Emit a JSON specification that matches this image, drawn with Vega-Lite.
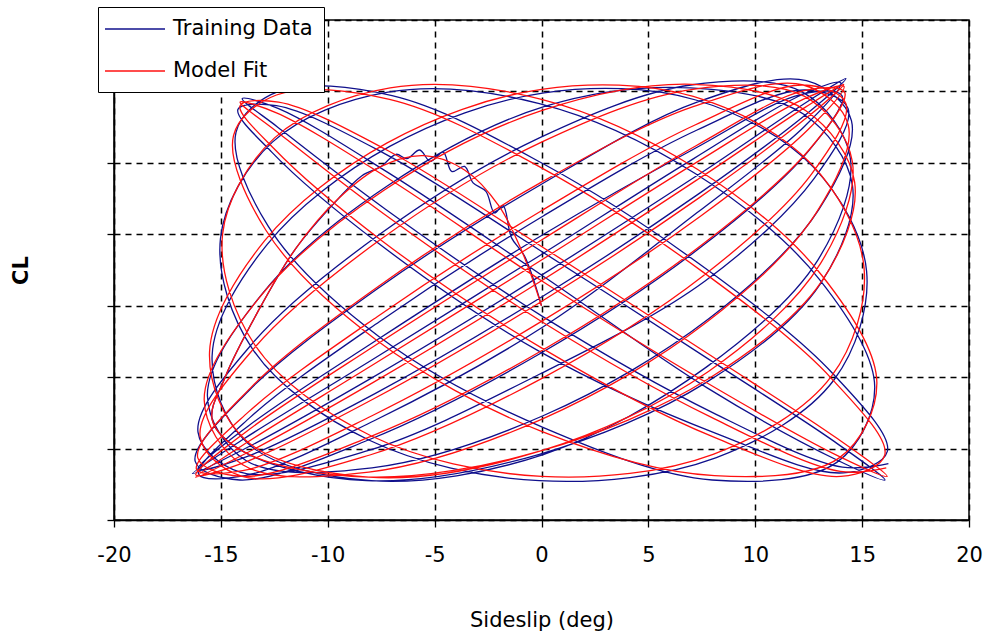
{
"$schema": "https://vega.github.io/schema/vega-lite/v6.json",
"width": 855, "height": 500,
"autosize": {"type": "none"},
"padding": {"left": 114, "top": 20, "right": 30, "bottom": 114},
"background": "white",
"config": {"view": {"stroke": "black", "strokeWidth": 1.5}, "font": "DejaVu Sans"},
"datasets": {
"fit": [
{"i":0,"x":0,"y":3.0},{"i":1,"x":-0.9,"y":3.75},{"i":2,"x":-2.0,"y":4.4},{"i":3,"x":-3.6,"y":4.9},{"i":4,"x":-5.5,"y":5.1},{"i":5,"x":-7.5,"y":4.95},{"i":6,"x":-9.5,"y":4.5},{"i":7,"x":-11.5,"y":3.8},{"i":8,"x":-13.3,"y":2.9},{"i":9,"x":-14.8,"y":2.0},{"i":10,"x":-15.4,"y":1.4},{"i":11,"x":-13.9,"y":0.95},{"i":12,"x":-8.09,"y":0.6},{"i":13,"x":0,"y":0.97},{"i":14,"x":7.83,"y":1.98},{"i":15,"x":13.13,"y":3.35},{"i":16,"x":14.65,"y":4.73},{"i":17,"x":12.37,"y":5.73},{"i":18,"x":7.07,"y":6.1},
{"i":19,"x":0,"y":5.73},{"i":20,"x":-7.35,"y":4.62},{"i":21,"x":-13.21,"y":3.11},{"i":22,"x":-15.78,"y":1.68},{"i":23,"x":-13.96,"y":0.77},{"i":24,"x":-8.08,"y":0.67},{"i":25,"x":0,"y":1.41},{"i":26,"x":7.69,"y":2.76},{"i":27,"x":12.83,"y":4.29},{"i":28,"x":14.35,"y":5.53},{"i":29,"x":12.25,"y":6.09},{"i":30,"x":7.13,"y":5.79},
{"i":31,"x":0,"y":4.73},{"i":32,"x":-7.59,"y":3.28},{"i":33,"x":-13.61,"y":1.85},{"i":34,"x":-16.08,"y":0.87},{"i":35,"x":-14.0,"y":0.61},{"i":36,"x":-7.98,"y":1.17},{"i":37,"x":0,"y":2.37},{"i":38,"x":7.49,"y":3.85},{"i":39,"x":12.54,"y":5.19},{"i":40,"x":14.18,"y":5.99},{"i":41,"x":12.28,"y":6.01},{"i":42,"x":7.23,"y":5.24},
{"i":43,"x":0,"y":3.92},{"i":44,"x":-7.75,"y":2.45},{"i":45,"x":-13.8,"y":1.24},{"i":46,"x":-16.17,"y":0.63},{"i":47,"x":-13.95,"y":0.8},{"i":48,"x":-7.89,"y":1.69},{"i":49,"x":0,"y":3.06},{"i":50,"x":7.37,"y":4.51},{"i":51,"x":12.4,"y":5.63},{"i":52,"x":14.14,"y":6.1},{"i":53,"x":12.35,"y":5.78},{"i":54,"x":7.32,"y":4.77},
{"i":55,"x":0,"y":3.35},{"i":56,"x":-7.85,"y":1.93},{"i":57,"x":-13.91,"y":0.92},{"i":58,"x":-16.18,"y":0.6},{"i":59,"x":-13.86,"y":1.07},{"i":60,"x":-7.79,"y":2.19},{"i":61,"x":0,"y":3.64},{"i":62,"x":7.27,"y":5.01},{"i":63,"x":12.31,"y":5.9},{"i":64,"x":14.15,"y":6.07},{"i":65,"x":12.45,"y":5.46},{"i":66,"x":7.42,"y":4.25},
{"i":67,"x":0,"y":2.78},{"i":68,"x":-7.93,"y":1.46},{"i":69,"x":-13.98,"y":0.69},{"i":70,"x":-16.14,"y":0.71},{"i":71,"x":-13.72,"y":1.51},{"i":72,"x":-7.67,"y":2.85},{"i":73,"x":0,"y":4.33},{"i":74,"x":7.18,"y":5.53},{"i":75,"x":12.25,"y":6.09},{"i":76,"x":14.24,"y":5.83},{"i":77,"x":12.65,"y":4.85},{"i":78,"x":7.57,"y":3.42},
{"i":79,"x":0,"y":1.98},{"i":80,"x":-8.03,"y":0.91},{"i":81,"x":-14.0,"y":0.61},{"i":82,"x":-15.97,"y":1.17},{"i":83,"x":-13.43,"y":2.41},{"i":84,"x":-7.47,"y":3.94},{"i":85,"x":0,"y":5.29},{"i":86,"x":7.08,"y":6.03},{"i":87,"x":12.31,"y":5.93},{"i":88,"x":14.54,"y":5.02},{"i":89,"x":13.05,"y":3.59},{"i":90,"x":7.81,"y":2.08},
{"i":91,"x":0,"y":0.97},{"i":92,"x":-8.09,"y":0.6},{"i":93,"x":-13.85,"y":1.12},{"i":94,"x":-15.53,"y":2.35},{"i":95,"x":-12.95,"y":3.91},{"i":96,"x":-7.22,"y":5.28},{"i":97,"x":0,"y":6.03},{"i":98,"x":7.1,"y":5.93},{"i":99,"x":12.6,"y":4.99},{"i":100,"x":15.09,"y":3.53},{"i":101,"x":13.56,"y":2.01},{"i":102,"x":8.03,"y":0.92},
{"i":103,"x":0,"y":0.61},{"i":104,"x":-7.98,"y":1.18},{"i":105,"x":-13.41,"y":2.45},{"i":106,"x":-14.92,"y":4.0},{"i":107,"x":-12.49,"y":5.35},{"i":108,"x":-7.08,"y":6.05},{"i":109,"x":0,"y":5.89},{"i":110,"x":7.29,"y":4.91},{"i":111,"x":13.1,"y":3.43},{"i":112,"x":15.69,"y":1.92},{"i":113,"x":13.93,"y":0.87},{"i":114,"x":8.09,"y":0.62},
{"i":115,"x":0,"y":1.24},{"i":116,"x":-7.73,"y":2.52},{"i":117,"x":-12.9,"y":4.06},{"i":118,"x":-14.41,"y":5.38},{"i":119,"x":-12.4,"y":5.95},{"i":120,"x":-7.11,"y":5.89},{"i":121,"x":0,"y":4.93},{"i":122,"x":7.56,"y":3.47},{"i":123,"x":13.57,"y":1.98},{"i":124,"x":16.06,"y":0.91},{"i":125,"x":14.0,"y":0.61},{"i":126,"x":7.98,"y":1.17},
{"i":127,"x":0,"y":2.41},{"i":128,"x":-7.47,"y":3.91},{"i":129,"x":-12.52,"y":5.2},{"i":130,"x":-14.1,"y":5.8},{"i":131,"x":-12.3,"y":5.85},{"i":132,"x":-7.24,"y":5.18},{"i":133,"x":0,"y":3.83},{"i":134,"x":7.77,"y":2.33},{"i":135,"x":13.84,"y":1.14},{"i":136,"x":16.17,"y":0.61},{"i":137,"x":13.92,"y":0.89},{"i":138,"x":7.85,"y":1.9},
{"i":139,"x":0,"y":3.35},{"i":140,"x":-7.31,"y":4.81},{"i":141,"x":-12.4,"y":5.7},{"i":142,"x":-14.1,"y":5.85},{"i":143,"x":-12.44,"y":5.45},{"i":144,"x":-7.4,"y":4.29},{"i":145,"x":0,"y":2.78},{"i":146,"x":7.93,"y":1.44},{"i":147,"x":13.98,"y":0.68},{"i":148,"x":16.13,"y":0.73}
],
"train": [
{"i":0,"x":0,"y":3.0},{"i":1,"x":-0.8,"y":3.7},{"i":2,"x":-1.4,"y":3.95},{"i":3,"x":-1.8,"y":4.4},{"i":4,"x":-2.2,"y":4.3},{"i":5,"x":-2.6,"y":4.6},{"i":6,"x":-3.2,"y":4.72},{"i":7,"x":-3.6,"y":4.95},{"i":8,"x":-4.2,"y":4.88},{"i":9,"x":-4.6,"y":5.15},{"i":10,"x":-5.2,"y":5.02},{"i":11,"x":-5.7,"y":5.18},{"i":12,"x":-6.3,"y":5.06},{"i":13,"x":-6.8,"y":5.12},{"i":14,"x":-7.5,"y":4.95},{"i":15,"x":-8.4,"y":4.82},{"i":16,"x":-9.5,"y":4.5},{"i":17,"x":-11.5,"y":3.8},{"i":18,"x":-13.3,"y":2.9},{"i":19,"x":-14.8,"y":2.0},{"i":20,"x":-15.4,"y":1.4},{"i":21,"x":-13.9,"y":0.95},{"i":22,"x":-8.19,"y":0.55},{"i":23,"x":-0.1,"y":0.92},{"i":24,"x":7.73,"y":1.93},{"i":25,"x":13.03,"y":3.3},{"i":26,"x":14.55,"y":4.68},{"i":27,"x":12.27,"y":5.68},{"i":28,"x":6.97,"y":6.05},
{"i":29,"x":0.15,"y":5.79},{"i":30,"x":-7.2,"y":4.68},{"i":31,"x":-13.06,"y":3.17},{"i":32,"x":-15.63,"y":1.74},{"i":33,"x":-13.81,"y":0.83},{"i":34,"x":-7.93,"y":0.73},{"i":35,"x":0.15,"y":1.47},{"i":36,"x":7.84,"y":2.82},{"i":37,"x":12.98,"y":4.35},{"i":38,"x":14.5,"y":5.59},{"i":39,"x":12.4,"y":6.15},{"i":40,"x":7.28,"y":5.85},
{"i":41,"x":-0.12,"y":4.68},{"i":42,"x":-7.71,"y":3.23},{"i":43,"x":-13.73,"y":1.8},{"i":44,"x":-16.2,"y":0.82},{"i":45,"x":-14.12,"y":0.56},{"i":46,"x":-8.1,"y":1.12},{"i":47,"x":-0.12,"y":2.32},{"i":48,"x":7.37,"y":3.8},{"i":49,"x":12.42,"y":5.14},{"i":50,"x":14.06,"y":5.94},{"i":51,"x":12.16,"y":5.96},{"i":52,"x":7.11,"y":5.19},
{"i":53,"x":0.1,"y":4.0},{"i":54,"x":-7.65,"y":2.53},{"i":55,"x":-13.7,"y":1.32},{"i":56,"x":-16.07,"y":0.71},{"i":57,"x":-13.85,"y":0.88},{"i":58,"x":-7.79,"y":1.77},{"i":59,"x":0.1,"y":3.14},{"i":60,"x":7.47,"y":4.59},{"i":61,"x":12.5,"y":5.71},{"i":62,"x":14.24,"y":6.18},{"i":63,"x":12.45,"y":5.86},{"i":64,"x":7.42,"y":4.85},
{"i":65,"x":-0.15,"y":3.4},{"i":66,"x":-8.0,"y":1.98},{"i":67,"x":-14.06,"y":0.97},{"i":68,"x":-16.33,"y":0.65},{"i":69,"x":-14.01,"y":1.12},{"i":70,"x":-7.94,"y":2.24},{"i":71,"x":-0.15,"y":3.69},{"i":72,"x":7.12,"y":5.06},{"i":73,"x":12.16,"y":5.95},{"i":74,"x":14.0,"y":6.12},{"i":75,"x":12.3,"y":5.51},{"i":76,"x":7.27,"y":4.3},
{"i":77,"x":0.1,"y":2.71},{"i":78,"x":-7.83,"y":1.39},{"i":79,"x":-13.88,"y":0.62},{"i":80,"x":-16.04,"y":0.64},{"i":81,"x":-13.62,"y":1.44},{"i":82,"x":-7.57,"y":2.78},{"i":83,"x":0.1,"y":4.26},{"i":84,"x":7.28,"y":5.46},{"i":85,"x":12.35,"y":6.02},{"i":86,"x":14.34,"y":5.76},{"i":87,"x":12.75,"y":4.78},{"i":88,"x":7.67,"y":3.35},
{"i":89,"x":-0.1,"y":2.04},{"i":90,"x":-8.13,"y":0.97},{"i":91,"x":-14.1,"y":0.67},{"i":92,"x":-16.07,"y":1.23},{"i":93,"x":-13.53,"y":2.47},{"i":94,"x":-7.57,"y":4.0},{"i":95,"x":-0.1,"y":5.35},{"i":96,"x":6.98,"y":6.09},{"i":97,"x":12.21,"y":5.99},{"i":98,"x":14.44,"y":5.08},{"i":99,"x":12.95,"y":3.65},{"i":100,"x":7.71,"y":2.14},
{"i":101,"x":0.12,"y":0.92},{"i":102,"x":-7.97,"y":0.55},{"i":103,"x":-13.73,"y":1.07},{"i":104,"x":-15.41,"y":2.3},{"i":105,"x":-12.83,"y":3.86},{"i":106,"x":-7.1,"y":5.23},{"i":107,"x":0.12,"y":5.98},{"i":108,"x":7.22,"y":5.88},{"i":109,"x":12.72,"y":4.94},{"i":110,"x":15.21,"y":3.48},{"i":111,"x":13.68,"y":1.96},{"i":112,"x":8.15,"y":0.87},
{"i":113,"x":-0.1,"y":0.55},{"i":114,"x":-8.08,"y":1.12},{"i":115,"x":-13.51,"y":2.39},{"i":116,"x":-15.02,"y":3.94},{"i":117,"x":-12.59,"y":5.29},{"i":118,"x":-7.18,"y":5.99},{"i":119,"x":-0.1,"y":5.83},{"i":120,"x":7.19,"y":4.85},{"i":121,"x":13.0,"y":3.37},{"i":122,"x":15.59,"y":1.86},{"i":123,"x":13.83,"y":0.81},{"i":124,"x":7.99,"y":0.56},
{"i":125,"x":0.12,"y":1.29},{"i":126,"x":-7.61,"y":2.57},{"i":127,"x":-12.78,"y":4.11},{"i":128,"x":-14.29,"y":5.43},{"i":129,"x":-12.3,"y":6.0},{"i":130,"x":-6.99,"y":5.94},{"i":131,"x":0.12,"y":4.98},{"i":132,"x":7.68,"y":3.52},{"i":133,"x":13.69,"y":2.03},{"i":134,"x":16.18,"y":0.96},{"i":135,"x":14.12,"y":0.66},{"i":136,"x":8.1,"y":1.22},
{"i":137,"x":-0.1,"y":2.36},{"i":138,"x":-7.57,"y":3.86},{"i":139,"x":-12.62,"y":5.15},{"i":140,"x":-14.2,"y":5.75},{"i":141,"x":-12.4,"y":5.8},{"i":142,"x":-7.34,"y":5.13},{"i":143,"x":-0.1,"y":3.78},{"i":144,"x":7.67,"y":2.28},{"i":145,"x":13.74,"y":1.09},{"i":146,"x":16.07,"y":0.56},{"i":147,"x":13.82,"y":0.84},{"i":148,"x":7.75,"y":1.85},
{"i":149,"x":0.1,"y":3.41},{"i":150,"x":-7.21,"y":4.87},{"i":151,"x":-12.3,"y":5.76},{"i":152,"x":-14.0,"y":5.9},{"i":153,"x":-12.34,"y":5.5},{"i":154,"x":-7.3,"y":4.35},{"i":155,"x":0.1,"y":2.84},{"i":156,"x":8.03,"y":1.5},{"i":157,"x":14.08,"y":0.74},{"i":158,"x":16.23,"y":0.79}
]
},
"encoding": {
  "x": {"field": "x", "type": "quantitative", "scale": {"domain": [-20, 20], "nice": false, "zero": false},
        "axis": {"values": [-20,-15,-10,-5,0,5,10,15,20], "grid": true, "gridDash": [6,5], "gridColor": "black", "gridOpacity": 1, "gridWidth": 1.5,
                 "domainColor": "black", "domainWidth": 1.5, "tickColor": "black", "tickSize": 7, "tickWidth": 1.3,
                 "labelFontSize": 21, "labelColor": "black", "labelPadding": 17, "labelFlush": false, "labelOverlap": false,
                 "labelExpr": "replace(datum.label, '\u2212', '-')",
                 "title": "Sideslip (deg)", "titleFontSize": 21, "titleFontWeight": "normal", "titleColor": "black", "titlePadding": 44}},
  "y": {"field": "y", "type": "quantitative", "scale": {"domain": [0, 7], "nice": false, "zero": false},
        "axis": {"values": [0,1,2,3,4,5,6,7], "labels": false, "grid": true, "gridDash": [6,5], "gridColor": "black", "gridOpacity": 1, "gridWidth": 1.5,
                 "domainColor": "black", "domainWidth": 1.5, "tickColor": "black", "tickSize": 7, "tickWidth": 1.3,
                 "title": "CL", "titleFontSize": 21, "titleFontWeight": "bold", "titleColor": "black", "titlePadding": 75}},
  "order": {"field": "i", "type": "quantitative"}
},
"layer": [
  {"data": {"name": "train"}, "mark": {"type": "line", "interpolate": "catmull-rom", "strokeWidth": 1.3},
   "encoding": {"color": {"datum": "Training Data", "type": "nominal",
      "scale": {"domain": ["Training Data", "Model Fit"], "range": ["#10108c", "#ff1010"]},
      "legend": {"orient": "none", "legendX": -16, "legendY": -13, "title": null, "symbolType": "M-3,0H3", "symbolSize": 400, "symbolStrokeWidth": 1.5, "symbolOffset": 15,
                 "labelFontSize": 21, "labelColor": "black", "labelOffset": 27, "labelLimit": 400, "strokeColor": "black", "fillColor": "white", "padding": 11, "rowPadding": 21}}}},
  {"data": {"name": "fit"}, "mark": {"type": "line", "interpolate": "catmull-rom", "strokeWidth": 1.3},
   "encoding": {"color": {"datum": "Model Fit", "type": "nominal"}}}
]
}
